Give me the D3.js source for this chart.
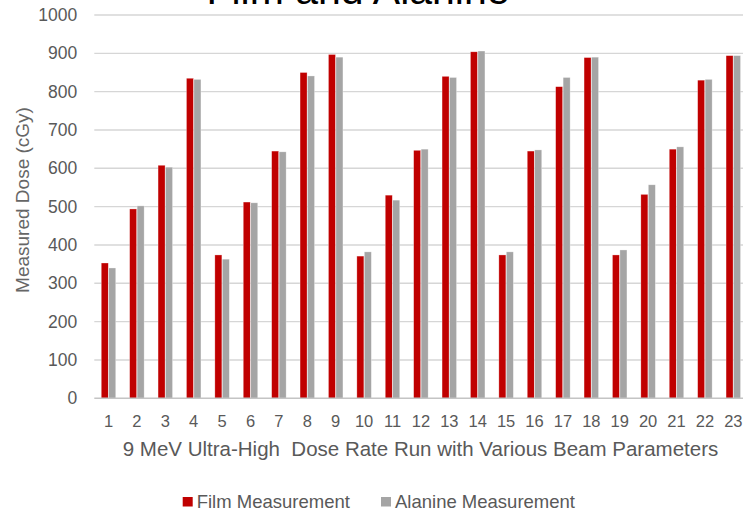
<!DOCTYPE html>
<html>
<head>
<meta charset="utf-8">
<script src="https://cdn.jsdelivr.net/npm/d3@7"></script>
<style>
    body { margin: 0; background: #fff; }
    svg { display: block; font-family: "Liberation Sans", Arial, sans-serif; }
    .tick-label { fill: #595959; }
</style>
</head>
<body>
<div id="chart"></div>
<script>
    // values
    var runs = ["1","2","3","4","5","6","7","8","9","10","11","12","13","14","15","16","17","18","19","20","21","22","23"];
    var film = [353,494,608,835,374,512,645,850,897,371,530,647,840,904,374,645,813,889,374,532,650,830,894];
    var alanine = [340,502,603,832,363,510,643,841,890,382,517,650,837,906,382,648,837,890,387,557,656,832,894];
    var seriesNames = ["Film Measurement", "Alanine Measurement"];
    var seriesColors = ["#C00000", "#A5A5A5"];
    var yTicks = [0,100,200,300,400,500,600,700,800,900,1000];

    var width = 743, height = 510;
    var left = 94.3, step = 28.4;
    var svg = d3.select("#chart").append("svg")
        .attr("width", width)
        .attr("height", height);

    var x = d3.scaleBand()
        .domain(runs)
        .range([left, left + runs.length * step])
        .padding(0);
    var x1 = d3.scaleBand()
        .domain(seriesNames)
        .range([x.bandwidth() * 0.245, x.bandwidth() * 0.755])
        .paddingInner(0.06);
    var y = d3.scaleLinear().domain([0, 1000]).range([398.3, 15]);

    // gridlines
    svg.append("g")
        .selectAll("line")
        .data(yTicks.filter(function(d){ return d > 0; }))
        .join("line")
        .attr("x1", left)
        .attr("x2", width)
        .attr("y1", function(d){ return y(d); })
        .attr("y2", function(d){ return y(d); })
        .attr("stroke", "#d6d6d6")
        .attr("stroke-width", 1.4);

    // y axis labels (no axis line, like the original)
    var yAxis = svg.append("g")
        .attr("transform", "translate(" + left + ",0)")
        .call(d3.axisLeft(y).tickValues(yTicks).tickFormat(d3.format("d")).tickSize(0).tickPadding(17));
    yAxis.select(".domain").remove();
    yAxis.selectAll("text")
        .attr("class", "tick-label")
        .style("font-size", "17.5px")
        .style("font-family", "Liberation Sans, Arial, sans-serif");

    // bars
    var rows = runs.map(function(r, i){ return {run: r, values: [film[i], alanine[i]]}; });
    var groups = svg.append("g")
        .selectAll("g")
        .data(rows)
        .join("g")
        .attr("transform", function(d){ return "translate(" + x(d.run) + ",0)"; });
    groups.selectAll("rect")
        .data(function(d){ return d.values.map(function(v, k){ return {name: seriesNames[k], value: v, color: seriesColors[k]}; }); })
        .join("rect")
        .attr("x", function(d){ return x1(d.name); })
        .attr("width", x1.bandwidth())
        .attr("y", function(d){ return y(d.value); })
        .attr("height", function(d){ return y(0) - y(d.value); })
        .attr("fill", function(d){ return d.color; })
        .attr("stroke", "#fff")
        .attr("stroke-opacity", 0.5)
        .attr("stroke-width", 0.6);

    // x axis
    var xAxis = svg.append("g")
        .attr("transform", "translate(0," + y(0) + ")")
        .call(d3.axisBottom(x).tickSize(0).tickPadding(17));
    xAxis.select(".domain")
        .attr("d", "M" + left + ",0H" + width)
        .attr("stroke", "#c4c4c4")
        .attr("stroke-width", 1.6);
    xAxis.selectAll("text")
        .attr("class", "tick-label")
        .style("font-size", "16.5px")
        .style("font-family", "Liberation Sans, Arial, sans-serif");

    // titles (the chart title is cut off by the top edge in the original too)
    svg.append("text")
        .attr("x", 358)
        .attr("y", 3.5)
        .attr("text-anchor", "middle")
        .style("font-size", "41px")
        .style("fill", "#000")
        .text("Film and Alanine");

    svg.append("text")
        .attr("x", 420.5)
        .attr("y", 455.5)
        .attr("text-anchor", "middle")
        .style("font-size", "20.5px")
        .style("white-space", "pre")
        .style("fill", "#595959")
        .text("9 MeV Ultra-High  Dose Rate Run with Various Beam Parameters");

    svg.append("text")
        .attr("transform", "translate(29,200) rotate(-90)")
        .attr("text-anchor", "middle")
        .style("font-size", "19px")
        .style("fill", "#666")
        .text("Measured Dose (cGy)");

    // legend
    var legendX = [182.7, 381];
    var legend = svg.append("g")
        .selectAll("g")
        .data(seriesNames)
        .join("g")
        .attr("transform", function(d, i){ return "translate(" + legendX[i] + ",497)"; });
    legend.append("rect")
        .attr("width", 10)
        .attr("height", 9.5)
        .attr("fill", function(d, i){ return seriesColors[i]; });
    legend.append("text")
        .attr("x", 14)
        .attr("y", 10.5)
        .style("font-size", "18.5px")
        .style("fill", "#595959")
        .text(function(d){ return d; });
</script>
</body>
</html>
